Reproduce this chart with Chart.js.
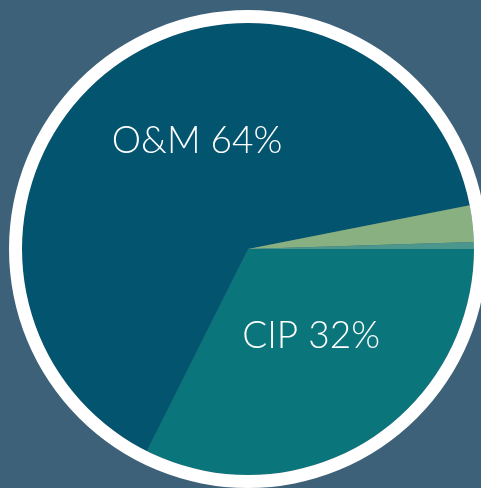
<!DOCTYPE html>
<html>
<head>
<meta charset="utf-8">
<script src="https://cdn.jsdelivr.net/npm/chart.js@4/dist/chart.umd.min.js"></script>
<style>
  html, body { margin: 0; padding: 0; background: #3E617A; overflow: hidden; width: 481px; height: 488px; }
  #wrap { position: absolute; left: 0; top: 0; width: 496px; height: 498px; }
</style>
</head>
<body>
<div id="wrap"><canvas id="c"></canvas></div>
<script>
const categories = ['CIP', 'O&M', 'Other A', 'Other B'];
const shares = [32.4, 64.5, 2.6, 0.5];
const labelText = ['CIP 32%', 'O&M 64%', '', ''];
const sliceColors = ['#0B757C', '#02546F', '#88B081', '#4B978D'];

const labelOffsets = { 0: [0.264, 0.364], 1: [-0.213, -0.452] };

const labelPlugin = {
  id: 'sliceLabels',
  afterDatasetsDraw(chart) {
    const meta = chart.getDatasetMeta(1);
    const ring = chart.getDatasetMeta(0).data[0];
    const ctx = chart.ctx;
    ctx.save();
    ctx.fillStyle = '#ffffff';
    ctx.font = '300 37px Lato, "Open Sans", sans-serif';
    ctx.textAlign = 'center';
    ctx.textBaseline = 'middle';
    meta.data.forEach((arc, i) => {
      if (!labelText[i]) return;
      const off = labelOffsets[i];
      const R = ring.outerRadius;
      ctx.fillText(labelText[i], arc.x + off[0] * R, arc.y + off[1] * R);
    });
    ctx.restore();
  }
};

new Chart(document.getElementById('c'), {
  type: 'pie',
  data: {
    labels: categories,
    datasets: [
      { data: [1], backgroundColor: ['#ffffff'], borderWidth: 0, weight: 13 },
      { data: shares, backgroundColor: sliceColors, borderWidth: 0, weight: 226 }
    ]
  },
  options: {
    responsive: true,
    maintainAspectRatio: false,
    animation: false,
    rotation: 90,
    layout: { padding: { left: 9, right: 9, top: 10, bottom: 10 } },
    plugins: { legend: { display: false }, tooltip: { enabled: false } }
  },
  plugins: [labelPlugin]
});
</script>
</body>
</html>
